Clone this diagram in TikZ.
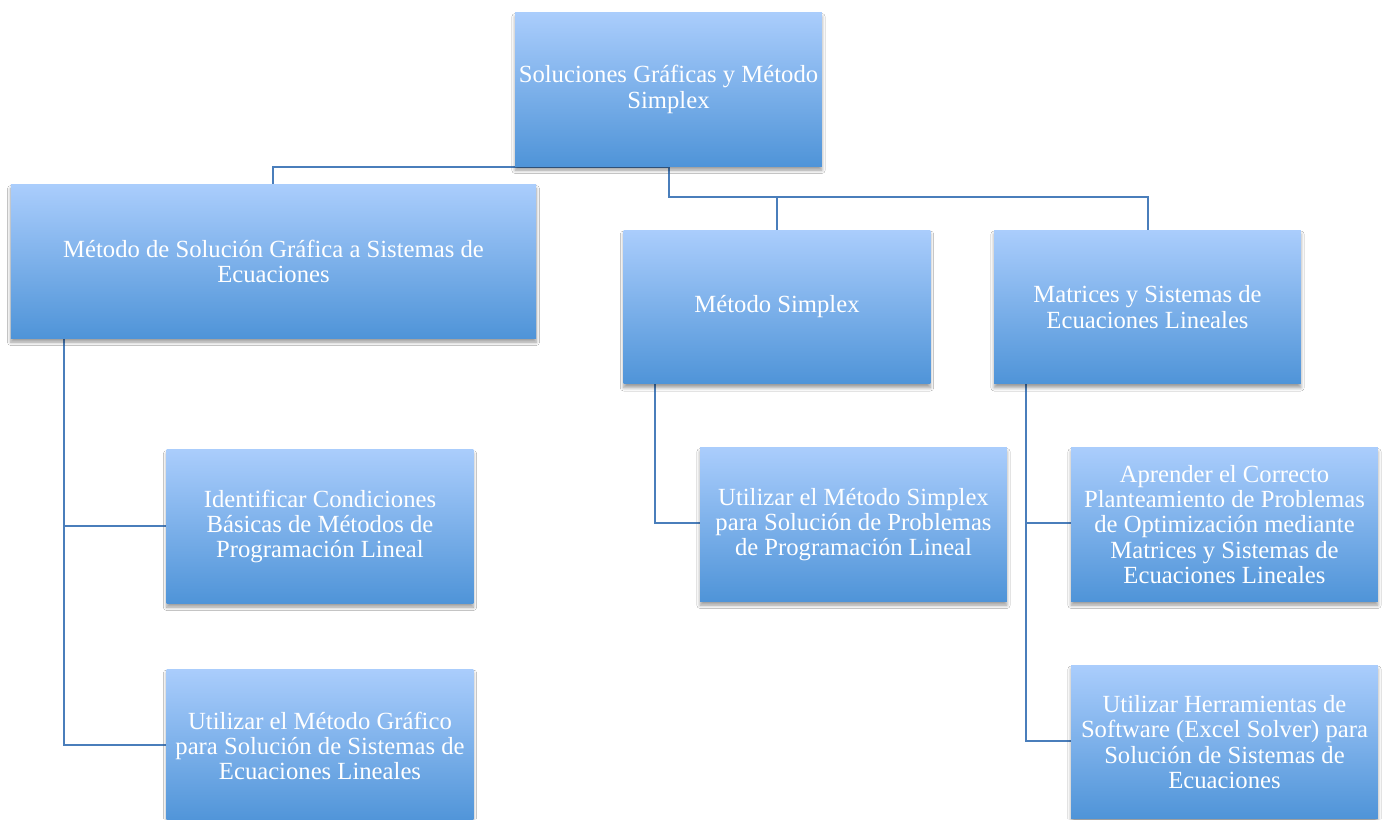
\documentclass[tikz,border=0pt]{standalone}
\usepackage{fontspec}
\setmainfont{Liberation Serif}
\usetikzlibrary{shadows.blur}
\definecolor{boxtop}{RGB}{170,205,252}
\definecolor{boxbot}{RGB}{79,148,216}
\definecolor{linkblue}{RGB}{74,126,187}
\tikzset{
  box/.style={rectangle, top color=boxtop, bottom color=boxbot,
    minimum width=230pt, minimum height=115pt, align=center,
    text=white, inner sep=2pt,
    font=\fontsize{18.5}{19}\selectfont,
    blur shadow={shadow xshift=0pt, shadow yshift=-3pt,
      shadow blur radius=2.5pt, shadow blur steps=6, shadow opacity=40}},
  widebox/.style={box, minimum width=394pt},
  link/.style={draw=linkblue, line width=1.5pt}
}
\begin{document}
\begin{tikzpicture}[x=0.75pt, y=-0.75pt]
  \useasboundingbox (0,0) rectangle (1388,819);
  \clip (0,0) rectangle (1388,819);
  \fill[white] (0,0) rectangle (1388,819);
  \coordinate (fork) at (668.5,197);
  \coordinate (lbus) at (64,338);
  \coordinate (mbus) at (655,383);
  \coordinate (rbus) at (1026,383);
  \begin{scope}[link]
    \draw ([yshift=-1pt]668.5,166) -| (273,185);
    \draw (668.5,166) -- (fork) -| (777,231);
    \draw (fork) -| (1147.5,231);
    \draw (lbus) |- (167,526);
    \draw (lbus) |- (167,745);
    \draw (mbus) |- (700,523);
    \draw (rbus) |- (1071,523);
    \draw (rbus) |- (1071,741);
  \end{scope}
  \node[box] (top) at (668.5,89.5) {Soluciones Gráficas y Método\\Simplex};
  \node[widebox] (lone) at (273.5,261.5) {Método de Solución Gráfica a Sistemas de\\Ecuaciones};
  \node[box] (msx) at (777,307) {Método Simplex};
  \node[box] (mat) at (1147.5,307) {Matrices y Sistemas de\\Ecuaciones Lineales};
  \node[box] (idn) at (320,526.5) {Identificar Condiciones\\Básicas de Métodos de\\Programación Lineal};
  \node[box] (ugr) at (320,746) {Utilizar el Método Gráfico\\para Solución de Sistemas de\\Ecuaciones Lineales};
  \node[box] (usx) at (853.5,524.5) {Utilizar el Método Simplex\\para Solución de Problemas\\de Programación Lineal};
  \node[box] (apr) at (1224.5,524.5) {Aprender el Correcto\\Planteamiento de Problemas\\de Optimización mediante\\Matrices y Sistemas de\\Ecuaciones Lineales};
  \node[box] (her) at (1224.5,742) {Utilizar Herramientas de\\Software (Excel Solver) para\\Solución de Sistemas de\\Ecuaciones};
\end{tikzpicture}
\end{document}
